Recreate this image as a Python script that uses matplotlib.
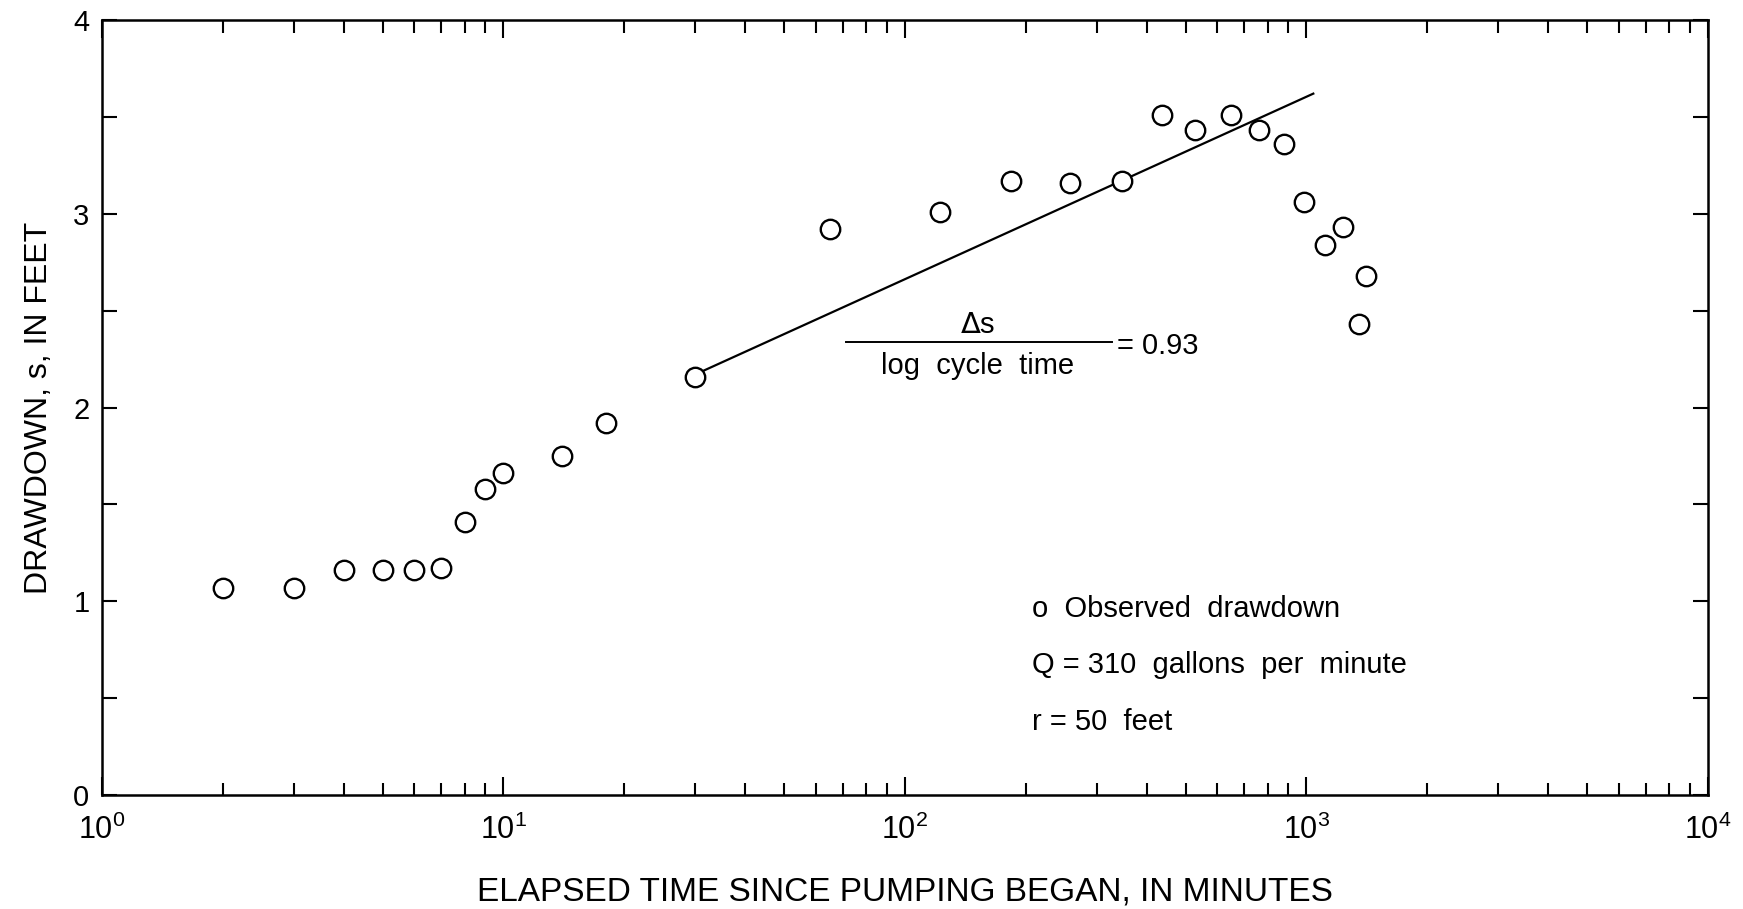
import matplotlib.pyplot as plt
import matplotlib.ticker as mticker
import numpy as np

plt.rcParams['font.family'] = ['Liberation Sans', 'DejaVu Sans']

# observed drawdown data
tiempo = np.array([2, 3, 4, 5, 6, 7, 8, 9, 10, 14, 18, 30, 65, 122, 184, 258, 347,
                   436, 528, 648, 760, 878, 988, 1110, 1230, 1355, 1410])
abatim = np.array([1.07, 1.07, 1.16, 1.16, 1.16, 1.17, 1.41, 1.58, 1.66, 1.75, 1.92,
                   2.16, 2.92, 3.01, 3.17, 3.16, 3.17, 3.51, 3.43, 3.51, 3.43, 3.36,
                   3.06, 2.84, 2.93, 2.43, 2.68])

# straight line fitted through the late data
recta_t = [30, 1040]
recta_s = [2.17, 3.62]

fig = plt.figure(figsize=(17.43, 9.09), dpi=100)
ax = fig.add_axes([0.0585, 0.1254, 0.9214, 0.8526])

ax.plot(tiempo, abatim, 'o', mfc='white', mec='black', ms=14, mew=1.7, zorder=3)
ax.plot(recta_t, recta_s, color='black', lw=1.6, zorder=2)

ax.set_xscale('log')
ax.set_xlim(1, 1e4)
ax.set_ylim(0, 4)

ax.xaxis.set_major_locator(mticker.LogLocator(base=10, numticks=10))
ax.xaxis.set_minor_locator(mticker.LogLocator(base=10, subs=np.arange(2, 10), numticks=10))
ax.xaxis.set_minor_formatter(mticker.NullFormatter())
ax.yaxis.set_major_locator(mticker.MultipleLocator(1))
ax.yaxis.set_minor_locator(mticker.MultipleLocator(0.5))
ax.yaxis.set_major_formatter(mticker.FormatStrFormatter('%d'))

ax.tick_params(axis='both', which='both', direction='in', top=True, right=True,
               width=1.5, colors='black')
ax.tick_params(axis='x', which='major', length=13, pad=14, labelsize=22)
ax.tick_params(axis='x', which='minor', length=9)
ax.tick_params(axis='y', which='both', length=11, pad=9, labelsize=21)

for lado in ax.spines.values():
    lado.set_linewidth(1.8)

ax.set_xlabel('ELAPSED TIME SINCE PUMPING BEGAN, IN MINUTES', fontsize=24, labelpad=22)
ax.set_ylabel('DRAWDOWN, s, IN FEET', fontsize=23, labelpad=14)

# slope annotation
ax.text(0.545, 0.606, r'$\Delta$s', transform=ax.transAxes, ha='center', va='center', fontsize=21)
ax.plot([0.463, 0.629], [0.585, 0.585], transform=ax.transAxes, color='black', lw=1.4)
ax.text(0.545, 0.553, 'log  cycle  time', transform=ax.transAxes, ha='center', va='center', fontsize=21)
ax.text(0.632, 0.579, '= 0.93', transform=ax.transAxes, ha='left', va='center', fontsize=21)

# legend notes
ax.text(0.579, 0.240, 'o  Observed  drawdown', transform=ax.transAxes, ha='left', va='center', fontsize=21)
ax.text(0.579, 0.168, 'Q = 310  gallons  per  minute', transform=ax.transAxes, ha='left', va='center', fontsize=21)
ax.text(0.579, 0.094, 'r = 50  feet', transform=ax.transAxes, ha='left', va='center', fontsize=21)

fig.savefig('out.png', dpi=100)
